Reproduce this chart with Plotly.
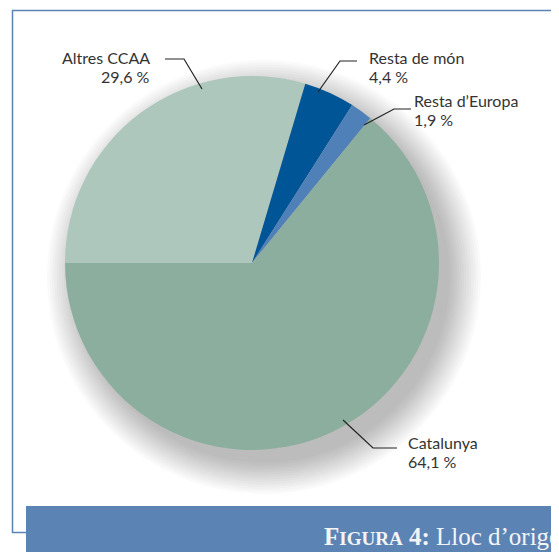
import plotly.graph_objects as go

W, H = 559, 552
OX, OY = 8, 8  # page body margin: screen coords -> figure coords

# ---- data ----
labels = ["Altres CCAA", "Resta de món", "Resta d\u2019Europa", "Catalunya"]
values = [29.6, 4.4, 1.9, 64.1]
value_text = ["29,6 %", "4,4 %", "1,9 %", "64,1 %"]
colors = ["#adc7bc", "#005596", "#5080b8", "#8cae9f"]

# ---- geometry (screen pixels) ----
cx, cy, R = 252, 263, 187
fx, fy = cx - OX, cy - OY

fig = go.Figure()

# hidden pixel axis for decorations (screen coordinates)
fig.add_trace(go.Scatter(x=[OX, W + OX], y=[OY, H + OY], mode="markers",
                         marker=dict(opacity=0), hoverinfo="skip", showlegend=False))

fig.add_trace(go.Pie(
    labels=labels, values=values, sort=False, direction="clockwise",
    rotation=270, textinfo="none", hoverinfo="label+percent",
    marker=dict(colors=colors, line=dict(width=0)),
    domain=dict(x=[(fx - R) / W, (fx + R) / W],
                y=[(H - fy - R) / H, (H - fy + R) / H]),
    showlegend=False,
))

shapes = []
# soft drop shadow
n = 14
for i in range(n):
    r = R + 30 - i * 2.4
    shapes.append(dict(type="circle", xref="x", yref="y", layer="below",
                       x0=cx + 12 - r, x1=cx + 12 + r, y0=cy + 14 - r, y1=cy + 14 + r,
                       fillcolor="rgba(0,0,0,0.018)", line=dict(width=0)))

frame = "#5b84b5"
shapes.append(dict(type="path", xref="x", yref="y",
                   path=f"M {W+20},10.5 L 12.5,10.5 L 12.5,532.5 L 27,532.5",
                   line=dict(color=frame, width=1.5)))
shapes.append(dict(type="rect", xref="x", yref="y", x0=26, x1=W + 20, y0=506, y1=H + 20,
                   fillcolor=frame, line=dict(width=0)))

# leader lines
leaders = [
    "M 165,59 L 184,59 L 202,89",
    "M 357,61 L 340,61 L 318,92",
    "M 411,109 L 394,109 L 364,125",
    "M 343,420 L 373,448 L 397,448",
]
for p in leaders:
    shapes.append(dict(type="path", xref="x", yref="y", path=p,
                       line=dict(color="#222222", width=1.2)))

ann = []
font = dict(family="Lato, Open Sans, sans-serif", size=16, color="#333333")
label_pos = [  # (x, y first line, anchor)
    (152, 57, "right"),
    (367, 57, "left"),
    (412, 100, "left"),
    (406, 442, "left"),
]
for (x, y, anc), lab, vt in zip(label_pos, labels, value_text):
    ann.append(dict(x=x, y=y, xref="x", yref="y", text=lab, showarrow=False,
                    xanchor=anc, yanchor="middle", font=font))
    ann.append(dict(x=x, y=y + 19, xref="x", yref="y", text=vt, showarrow=False,
                    xanchor=anc, yanchor="middle", font=font))

ann.append(dict(x=322, y=536, xref="x", yref="y", showarrow=False, xanchor="left",
                yanchor="middle",
                text="<b>F<span style='font-size:19px'>IGURA</span> 4:</b> Lloc d\u2019origen",
                font=dict(family="Liberation Serif, DejaVu Serif, serif", size=25,
                          color="#f4f4f4")))

fig.update_layout(
    width=W, height=H, margin=dict(l=0, r=0, t=0, b=0),
    paper_bgcolor="white", plot_bgcolor="white",
    xaxis=dict(range=[OX, W + OX], visible=False, domain=[0, 1], fixedrange=True),
    yaxis=dict(range=[H + OY, OY], visible=False, domain=[0, 1], fixedrange=True),
    shapes=shapes, annotations=ann, showlegend=False,
)

fig.write_html("out.html")
